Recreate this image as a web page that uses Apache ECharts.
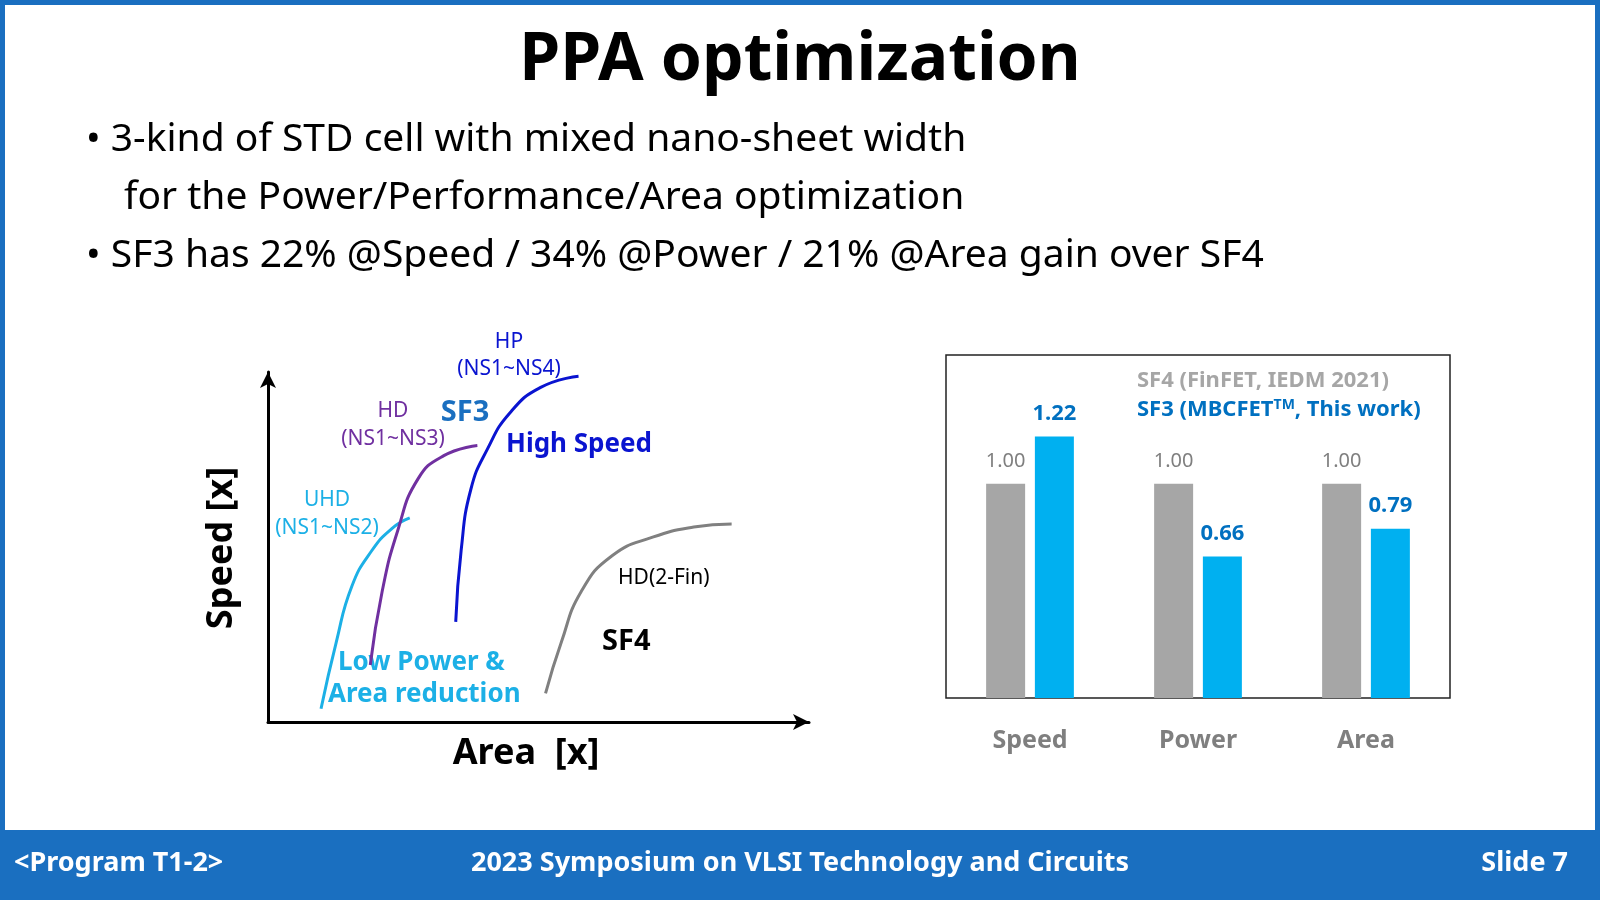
<!DOCTYPE html>
<html>
<head>
<meta charset="utf-8">
<script src="https://cdn.jsdelivr.net/npm/echarts@6/dist/echarts.min.js"></script>
<style>
  body { margin: 0; }
  #main { width: 1600px; height: 900px; }
</style>
</head>
<body>
<div id="main"></div>
<script>
// 左侧示意曲线 (x: Area, y: Speed, 0-100)
var uhdCurve = [[9.8, 3.8], [12.6, 22.7], [15.5, 38.8], [19.2, 49], [23, 55.4], [26.2, 58.3]];
var hdCurve = [[18.9, 16.3], [21.1, 37.3], [24, 54.8], [27.7, 69.4], [32.5, 76.1], [38.7, 79]];
var hpCurve = [[34.7, 28.6], [35.7, 49], [37.5, 66.5], [40.6, 78.1], [44.7, 88.3], [50.4, 95.6], [57.4, 98.8]];
var sf4Curve = [[51.3, 8.2], [54.2, 22.7], [57.9, 37.3], [63.6, 47.5], [71.1, 52.8], [78.7, 55.7], [85.7, 56.6]];

// 右侧柱状图
var categories = ['Speed', 'Power', 'Area'];
var sf4Values = [1.00, 1.00, 1.00];
var sf3Values = [1.22, 0.66, 0.79];

var myChart = echarts.init(document.getElementById('main'));
var font = '"Noto Sans", "Open Sans", sans-serif';

function txt(x, y, s, size, color, weight, align) {
    return {
        type: 'text', x: x, y: y,
        style: { text: s, fontSize: size, fill: color, fontWeight: weight || 'normal', fontFamily: font,
                 textAlign: align || 'left', textVerticalAlign: 'top' }
    };
}

var option = {
    backgroundColor: '#fff',
    textStyle: { fontFamily: font },
    grid: [
        { left: 268, top: 372, width: 541, height: 350 },
        { left: 946, top: 355, width: 504, height: 343, show: true, borderColor: '#222', borderWidth: 1.5 }
    ],
    xAxis: [
        { gridIndex: 0, type: 'value', min: 0, max: 100, axisLine: { show: true, lineStyle: { color: '#000', width: 3 }, symbol: ['none', 'arrow'], symbolSize: [12, 16] }, axisTick: { show: false }, axisLabel: { show: false }, splitLine: { show: false } },
        { gridIndex: 1, type: 'category', data: categories, axisLine: { show: false }, axisTick: { show: false },
          axisLabel: { margin: 30, fontSize: 25, fontWeight: 'bold', color: '#7f7f7f' } }
    ],
    yAxis: [
        { gridIndex: 0, type: 'value', min: 0, max: 100, axisLine: { show: true, lineStyle: { color: '#000', width: 3 }, symbol: ['none', 'arrow'], symbolSize: [12, 16] }, axisTick: { show: false }, axisLabel: { show: false }, splitLine: { show: false } },
        { gridIndex: 1, type: 'value', min: 0, max: 1.6, axisLine: { show: false }, axisTick: { show: false }, axisLabel: { show: false }, splitLine: { show: false } }
    ],
    series: [
        { type: 'line', smooth: true, showSymbol: false, data: uhdCurve, lineStyle: { color: '#1cb0e6', width: 3 } },
        { type: 'line', smooth: true, showSymbol: false, data: hdCurve, lineStyle: { color: '#7030a0', width: 3 } },
        { type: 'line', smooth: true, showSymbol: false, data: hpCurve, lineStyle: { color: '#0a14d0', width: 3 } },
        { type: 'line', smooth: true, showSymbol: false, data: sf4Curve, lineStyle: { color: '#808080', width: 3 } },
        { type: 'bar', xAxisIndex: 1, yAxisIndex: 1, data: sf4Values, barWidth: 39, barGap: '25%', itemStyle: { color: '#a6a6a6' },
          label: { show: true, position: 'top', distance: 12, formatter: function (p) { return p.value.toFixed(2); }, fontSize: 20, color: '#7f7f7f' } },
        { type: 'bar', xAxisIndex: 1, yAxisIndex: 1, data: sf3Values, barWidth: 39, itemStyle: { color: '#00b0f0' },
          label: { show: true, position: 'top', distance: 12, formatter: function (p) { return p.value.toFixed(2); }, fontSize: 22, fontWeight: 'bold', color: '#0070c0' } }
    ],
    graphic: [
        // 边框与页脚
        { type: 'rect', x: 0, y: 0, shape: { width: 1600, height: 900 }, style: { fill: 'none', stroke: '#1a6fc0', lineWidth: 10 }, z: 10 },
        { type: 'rect', x: 0, y: 830, shape: { width: 1600, height: 70 }, style: { fill: '#1a6fc0' } },
        txt(14, 850, '<Program T1-2>', 27, '#fff', 'bold'),
        txt(800, 850, '2023 Symposium on VLSI Technology and Circuits', 27, '#fff', 'bold', 'center'),
        txt(1568, 850, 'Slide 7', 27, '#fff', 'bold', 'right'),
        // 标题与要点
        txt(800, 28, 'PPA optimization', 66, '#000', 'bold', 'center'),
        txt(86, 120, '• 3-kind of STD cell with mixed nano-sheet width', 39, '#000'),
        txt(124, 178, 'for the Power/Performance/Area optimization', 39, '#000'),
        txt(86, 236, '• SF3 has 22% @Speed / 34% @Power / 21% @Area gain over SF4', 39, '#000'),
        // 左图标注
        { type: 'text', x: 222, y: 548, rotation: Math.PI / 2,
          style: { text: 'Speed [x]', fontSize: 36, fontWeight: 'bold', fill: '#000', fontFamily: font, textAlign: 'center', textVerticalAlign: 'middle' } },
        txt(526, 736, 'Area  [x]', 36, '#000', 'bold', 'center'),
        txt(509, 332, 'HP', 21, '#0a14d0', 'normal', 'center'),
        txt(509, 359, '(NS1~NS4)', 21, '#0a14d0', 'normal', 'center'),
        txt(465, 398, 'SF3', 29, '#1a6fc0', 'bold', 'center'),
        txt(506, 432, 'High Speed', 26, '#0a14d0', 'bold'),
        txt(393, 401, 'HD', 21, '#7030a0', 'normal', 'center'),
        txt(393, 429, '(NS1~NS3)', 21, '#7030a0', 'normal', 'center'),
        txt(327, 490, 'UHD', 21, '#1cb0e6', 'normal', 'center'),
        txt(327, 518, '(NS1~NS2)', 21, '#1cb0e6', 'normal', 'center'),
        txt(338, 650, 'Low Power &', 26, '#1cb0e6', 'bold'),
        txt(328, 682, 'Area reduction', 26, '#1cb0e6', 'bold'),
        txt(618, 568, 'HD(2-Fin)', 21, '#000'),
        txt(602, 627, 'SF4', 29, '#000', 'bold'),
        // 右图图例
        txt(1137, 370, 'SF4 (FinFET, IEDM 2021)', 22, '#a6a6a6', 'bold'),
        {
            type: 'text', x: 1137, y: 398,
            style: { text: '{a|SF3 (MBCFET}{b|TM}{a|, This work)}', fontFamily: font, textVerticalAlign: 'top', rich: {
                a: { fontSize: 22, fontWeight: 'bold', fill: '#0070c0', fontFamily: font },
                b: { fontSize: 14, fontWeight: 'bold', fill: '#0070c0', fontFamily: font, verticalAlign: 'top', padding: [0, 0, 10, 0] } } }
        }
    ]
};
myChart.setOption(option);
</script>
</body>
</html>
